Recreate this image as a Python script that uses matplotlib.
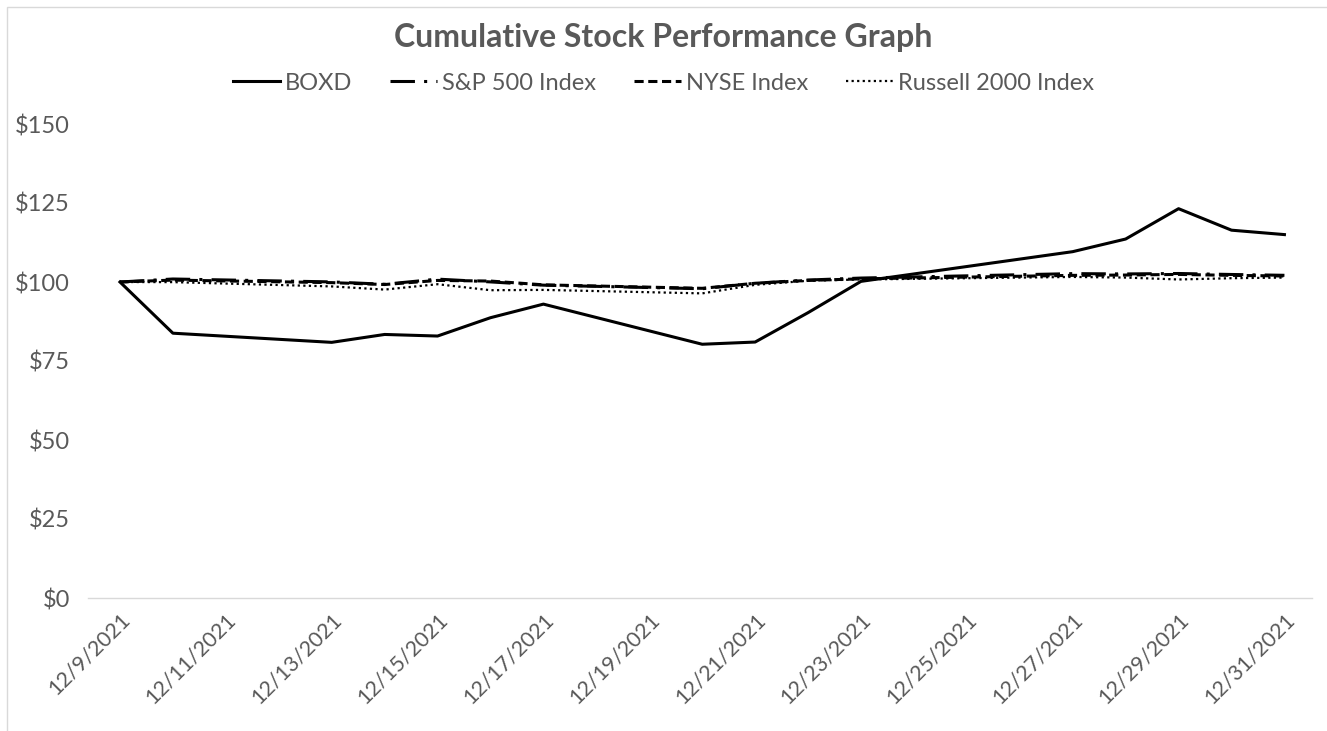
import matplotlib
matplotlib.use("Agg")
import matplotlib.pyplot as plt
import matplotlib.dates as mdates
import numpy as np
import pandas as pd
from matplotlib.patches import Rectangle

dates = ["2021-12-09", "2021-12-10", "2021-12-13", "2021-12-14", "2021-12-15",
         "2021-12-16", "2021-12-17", "2021-12-20", "2021-12-21", "2021-12-22",
         "2021-12-23", "2021-12-27", "2021-12-28", "2021-12-29", "2021-12-30",
         "2021-12-31"]
boxd = [100.0, 83.8, 80.9, 83.4, 82.9, 88.7, 93.0, 80.3, 81.0, 90.3,
        100.2, 109.6, 113.6, 123.2, 116.4, 115.0]
sp500 = [100.0, 100.95, 100.03, 99.28, 100.91, 100.03, 99.0, 97.87, 99.61,
         100.62, 101.25, 102.65, 102.55, 102.69, 102.38, 102.12]
nyse = [100.0, 100.6, 99.8, 99.2, 100.5, 100.3, 99.1, 98.0, 99.6,
        100.5, 101.0, 102.1, 102.2, 102.4, 102.1, 101.9]
russell = [100.0, 99.96, 98.6, 97.6, 99.3, 97.4, 97.5, 96.4, 99.1,
           100.4, 100.8, 101.6, 101.4, 100.8, 101.2, 101.4]
series_names = ["BOXD", "S&P 500 Index", "NYSE Index", "Russell 2000 Index"]
tick_dates = pd.date_range("2021-12-09", "2021-12-31", freq="2D")
y_ticks = [0, 25, 50, 75, 100, 125, 150]

x = pd.to_datetime(dates)
W, H = 1327, 731
fig = plt.figure(figsize=(W / 100, H / 100), dpi=100)
plt.rcParams['font.family'] = ['Lato', 'DejaVu Sans']
txt = "#595959"

ax = fig.add_axes([88 / W, 1 - 598 / H, (1312 - 88) / W, (598 - 124) / H])
ax.plot(x, boxd, color="black", lw=2.2, ls="-", label=series_names[0])
ax.plot(x, sp500, color="black", lw=2.2, ls=(0, (8, 3, 1, 3)), label=series_names[1])
ax.plot(x, nyse, color="black", lw=2.2, ls=(0, (3, 1.5)), label=series_names[2])
ax.plot(x, russell, color="black", lw=1.6, ls=(0, (1, 1.5)), label=series_names[3])

ax.set_ylim(0, 150)
ax.set_yticks(y_ticks)
ax.set_yticklabels([f"${v}" for v in y_ticks])
ax.set_xlim(pd.Timestamp("2021-12-09") - pd.Timedelta(hours=14.5),
            pd.Timestamp("2021-12-31") + pd.Timedelta(hours=12.5))
ax.set_xticks(tick_dates)
ax.set_xticklabels([f"{d.month}/{d.day}/{d.year}" for d in tick_dates],
                   rotation=45, ha="right", rotation_mode="anchor")
for s in ["top", "right", "left"]:
    ax.spines[s].set_visible(False)
ax.spines["bottom"].set_color("#d9d9d9")
ax.spines["bottom"].set_linewidth(1.0)
ax.tick_params(axis="both", length=0, colors=txt)
ax.tick_params(axis="y", pad=13, labelsize=17)
ax.tick_params(axis="x", pad=8, labelsize=15.5)

fig.text(0.5, 1 - 38 / H, "Cumulative Stock Performance Graph", ha="center",
         va="center", fontsize=23, fontweight="bold", color=txt)
leg = fig.legend(loc="center", bbox_to_anchor=(0.5, 1 - 83 / H), ncol=4,
                 frameon=False, fontsize=17, labelcolor=txt, handlelength=2.0,
                 handletextpad=0.2, columnspacing=1.6)

fig.patches.append(Rectangle((7 / W, -0.1), 1.2, 1 - 7 / H + 0.1,
                             transform=fig.transFigure, fill=False,
                             edgecolor="#d9d9d9", lw=1.0))
fig.savefig("out.png", dpi=100, facecolor="white")
